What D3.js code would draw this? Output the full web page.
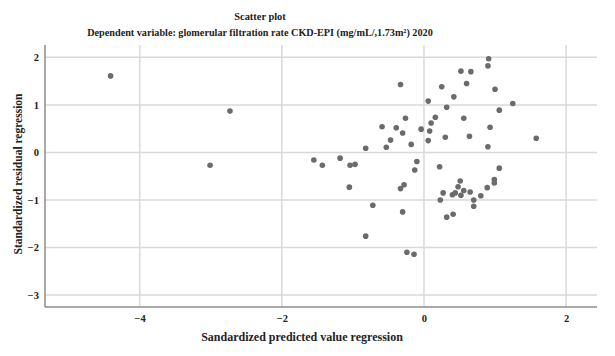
<!DOCTYPE html>
<html><head><meta charset="utf-8">
<script src="https://cdn.jsdelivr.net/npm/d3@7"></script>
<style>body{margin:0;background:#fff;} svg{display:block;}</style>
</head><body>
<svg id="chart" width="615" height="356"></svg>
<script>
const titleText = "Scatter plot";
const subtitleText = "Dependent variable: glomerular filtration rate CKD-EPI (mg/mL/,1.73m²) 2020";
const xLabel = "Sandardized predicted value regression";
const yLabel = "Standardized residual regression";
const xTicks = [-4, -2, 0, 2];
const yTicks = [2, 1, 0, -1, -2, -3];
const predicted = [-4.41,-2.73,-3.01,-1.55,-1.43,0.91,0.90,0.52,0.66,-0.33,0.60,0.25,1.00,0.42,0.06,1.25,0.32,1.06,-0.26,0.16,0.56,0.10,-0.59,-0.39,-0.04,0.08,0.93,-0.30,-0.47,0.30,0.64,0.06,1.58,-0.18,-0.82,-0.53,0.90,-1.18,-1.04,-0.97,-0.10,-0.13,0.22,1.06,-1.05,-0.28,-0.33,0.99,0.99,0.89,0.51,0.48,0.56,0.65,0.27,0.40,0.44,0.52,0.80,0.23,0.70,0.70,-0.72,-0.30,0.32,0.41,-0.82,-0.24,-0.14];
const residual = [1.61,0.87,-0.27,-0.16,-0.27,1.97,1.82,1.71,1.70,1.43,1.45,1.38,1.33,1.17,1.08,1.03,0.95,0.89,0.72,0.74,0.72,0.62,0.54,0.52,0.49,0.45,0.53,0.41,0.26,0.32,0.34,0.25,0.30,0.17,0.09,0.11,0.12,-0.12,-0.27,-0.25,-0.19,-0.37,-0.30,-0.33,-0.73,-0.68,-0.76,-0.57,-0.64,-0.74,-0.60,-0.72,-0.80,-0.83,-0.85,-0.89,-0.85,-0.90,-0.91,-1.00,-1.00,-1.13,-1.11,-1.25,-1.36,-1.30,-1.76,-2.10,-2.14];

const svg = d3.select("#chart");
const L = 45, R = 597, T = 45, B = 307;
const x = d3.scaleLinear().domain([-5.333, 2.435]).range([L, R]);
const y = d3.scaleLinear().domain([2.26, -3.25]).range([T, B]);
const font = "'Liberation Serif', 'DejaVu Serif', serif";

// gridlines
svg.append("g").selectAll("line.v").data(xTicks).join("line")
  .attr("x1", d => x(d)).attr("x2", d => x(d)).attr("y1", T).attr("y2", B)
  .attr("stroke", "#d9d9d9").attr("stroke-width", 1.5);
svg.append("g").selectAll("line.h").data(yTicks).join("line")
  .attr("x1", L).attr("x2", R).attr("y1", d => y(d)).attr("y2", d => y(d))
  .attr("stroke", "#d9d9d9").attr("stroke-width", 1.5);

// axes
const xAxis = d3.axisBottom(x).tickValues(xTicks).tickSize(0).tickPadding(6).tickFormat(d3.format("d"));
const yAxis = d3.axisLeft(y).tickValues(yTicks).tickSize(0).tickPadding(6).tickFormat(d3.format("d"));
const gx = svg.append("g").attr("transform", `translate(0,${B})`).call(xAxis);
const gy = svg.append("g").attr("transform", `translate(${L},0)`).call(yAxis);
[gx, gy].forEach(g => {
  g.select(".domain").remove();
  g.selectAll("text").attr("font-family", font).attr("font-size", 10.5).attr("font-weight", "bold").attr("fill", "#222");
});
gx.selectAll("text").attr("dy", "0.9em");
svg.append("line").attr("x1", L).attr("x2", R).attr("y1", B).attr("y2", B).attr("stroke", "#8c8c8c").attr("stroke-width", 1.5);
svg.append("line").attr("x1", L).attr("x2", L).attr("y1", T).attr("y2", B).attr("stroke", "#8c8c8c").attr("stroke-width", 1.5);

// points
svg.append("g").selectAll("circle").data(predicted.map((p, i) => [p, residual[i]])).join("circle")
  .attr("cx", d => x(d[0])).attr("cy", d => y(d[1])).attr("r", 2.8).attr("fill", "#6b6b6b");

// titles
svg.append("text").attr("x", 260).attr("y", 20).attr("text-anchor", "middle")
  .attr("font-family", font).attr("font-weight", "bold").attr("font-size", 10.4).attr("fill", "#222").text(titleText);
svg.append("text").attr("x", 260).attr("y", 36).attr("text-anchor", "middle")
  .attr("font-family", font).attr("font-weight", "bold").attr("font-size", 10.2).attr("fill", "#222").text(subtitleText);
svg.append("text").attr("x", 302).attr("y", 341).attr("text-anchor", "middle")
  .attr("font-family", font).attr("font-weight", "bold").attr("font-size", 12).attr("fill", "#222").text(xLabel);
svg.append("text").attr("transform", "translate(22,174) rotate(-90)").attr("text-anchor", "middle")
  .attr("font-family", font).attr("font-weight", "bold").attr("font-size", 11.5).attr("fill", "#222").text(yLabel);
</script>
</body></html>
